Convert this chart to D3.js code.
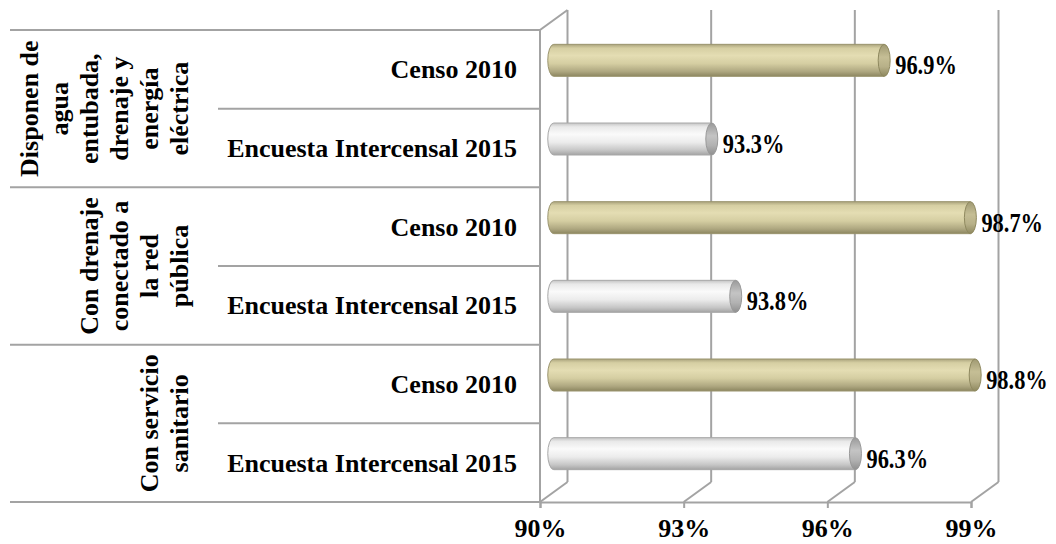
<!DOCTYPE html>
<html>
<head>
<meta charset="utf-8">
<script src="https://cdn.jsdelivr.net/npm/d3@7"></script>
<style>
  body { margin: 0; background: #fff; }
  svg text { font-family: "Liberation Serif", "Times New Roman", serif; font-weight: bold; fill: #000; }
</style>
</head>
<body>
<svg id="chart"></svg>
<script>
// data
const groupLines = [
  ["Disponen de", "agua", "entubada,", "drenaje y", "energía", "eléctrica"],
  ["Con drenaje", "conectado a", "la red", "pública"],
  ["Con servicio", "sanitario"]
];
const seriesNames = ["Censo 2010", "Encuesta Intercensal 2015"];
const censo2010 = [96.9, 98.7, 98.8];
const encuesta2015 = [93.3, 93.8, 96.3];
const tickValues = [90, 93, 96, 99];

const width = 1056, height = 544;
const depth = { dx: 27.5, dy: -20 };
const lineColor = "#a3a3a3";

const rows = [];
groupLines.forEach((g, i) => {
  rows.push({ group: i, series: 0, label: seriesNames[0], value: censo2010[i] });
  rows.push({ group: i, series: 1, label: seriesNames[1], value: encuesta2015[i] });
});

const svg = d3.select("#chart").attr("width", width).attr("height", height);

const x = d3.scaleLinear().domain([90, 99]).range([540, 971]);
const y = d3.scaleBand().domain(d3.range(rows.length)).range([30, 502]);
const yGroup = d3.scaleBand().domain(d3.range(groupLines.length)).range([30, 502]);

// gradients for cylinders
const defs = svg.append("defs");
const grads = [
  { id: "body0", stops: [[0, "#aba47d"], [0.12, "#d6cfa3"], [0.35, "#e4ddb3"], [0.6, "#d5cea2"], [0.85, "#aea780"], [1, "#8c8660"]] },
  { id: "body1", stops: [[0, "#c4c4c4"], [0.12, "#e9e9e9"], [0.35, "#fafafa"], [0.6, "#ececec"], [0.85, "#c6c6c6"], [1, "#a3a3a3"]] },
  { id: "cap0", stops: [[0, "#9f9972"], [0.4, "#c5be95"], [0.7, "#b7b088"], [1, "#8e885f"]] },
  { id: "cap1", stops: [[0, "#9a9a9a"], [0.4, "#c4c4c4"], [0.7, "#b2b2b2"], [1, "#8f8f8f"]] }
];
grads.forEach(g => {
  const lg = defs.append("linearGradient").attr("id", g.id)
    .attr("x1", 0).attr("y1", 0).attr("x2", 0).attr("y2", 1);
  g.stops.forEach(s => lg.append("stop").attr("offset", s[0]).attr("stop-color", s[1]));
});

// table lines on the left
const tableLeft = 10, subLeft = 218, wallX = x(90);
const grid = svg.append("g").attr("stroke", lineColor).attr("stroke-width", 2).attr("fill", "none");

grid.selectAll(".gline")
  .data(d3.range(groupLines.length + 1))
  .join("line")
  .attr("x1", tableLeft).attr("x2", wallX)
  .attr("y1", d => d < groupLines.length ? yGroup(d) : yGroup(d - 1) + yGroup.bandwidth())
  .attr("y2", d => d < groupLines.length ? yGroup(d) : yGroup(d - 1) + yGroup.bandwidth());

grid.selectAll(".sline")
  .data(groupLines.map((g, i) => i))
  .join("line")
  .attr("x1", subLeft).attr("x2", wallX)
  .attr("y1", d => y(d * 2 + 1)).attr("y2", d => y(d * 2 + 1));

// 3D frame: left wall, back gridlines, floor
const yTop = y.range()[0], yBottom = y.range()[1];
grid.append("path")
  .attr("d", `M${wallX},${yBottom}V${yTop}l${depth.dx},${depth.dy}`);

grid.selectAll(".back")
  .data(tickValues)
  .join("line")
  .attr("x1", d => x(d) + depth.dx).attr("x2", d => x(d) + depth.dx)
  .attr("y1", yTop + depth.dy).attr("y2", yBottom + depth.dy);

grid.selectAll(".floor")
  .data(tickValues)
  .join("line")
  .attr("x1", d => x(d)).attr("y1", yBottom)
  .attr("x2", d => x(d) + depth.dx).attr("y2", yBottom + depth.dy);

// bottom axis
const xAxis = d3.axisBottom(x).tickValues(tickValues).tickSize(6).tickPadding(7)
  .tickFormat(d => d + "%");
const axisG = svg.append("g").attr("transform", `translate(0,${yBottom})`).call(xAxis);
axisG.select(".domain").attr("stroke", lineColor).attr("stroke-width", 2);
axisG.selectAll(".tick line").attr("stroke", lineColor).attr("stroke-width", 2);
axisG.selectAll(".tick text").attr("font-size", 26).attr("dy", "0.86em")
  .style("font-family", '"Liberation Serif", serif').style("font-weight", "bold");

// cylinders
const ry = 16, rx = 6;
const barCenter = i => y(i) + y.bandwidth() / 2 + depth.dy / 2 + 1;
const bars = svg.append("g").selectAll("g").data(rows).join("g");

bars.append("path")
  .attr("fill", d => `url(#body${d.series})`)
  .attr("stroke", d => d.series === 0 ? "#9a946e" : "#a8a8a8")
  .attr("stroke-width", 1)
  .attr("d", (d, i) => {
    const x0 = x(90) + depth.dx / 2, x1 = x(d.value) + depth.dx / 2, c = barCenter(i);
    return `M${x1},${c - ry}H${x0}A${rx},${ry} 0 0 0 ${x0},${c + ry}H${x1}`;
  });

bars.append("ellipse")
  .attr("cx", d => x(d.value) + depth.dx / 2)
  .attr("cy", (d, i) => barCenter(i))
  .attr("rx", rx).attr("ry", ry)
  .attr("fill", d => `url(#cap${d.series})`)
  .attr("stroke", d => d.series === 0 ? "#8f895f" : "#999")
  .attr("stroke-width", 1);

// value labels
bars.append("text")
  .attr("font-size", 27)
  .attr("transform", (d, i) => `translate(${x(d.value) + depth.dx / 2 + rx + 5},${barCenter(i) + 14}) scale(0.83,1)`)
  .text(d => d.value.toFixed(1) + "%");

// row labels
svg.append("g").selectAll("text").data(rows).join("text")
  .attr("x", 517)
  .attr("y", (d, i) => y(i) + y.bandwidth() / 2 + 9)
  .attr("text-anchor", "end")
  .attr("font-size", 26)
  .text(d => d.label);

// rotated group labels
const lineStep = 30, lastBaseline = 188;
const glabels = svg.append("g").selectAll("text").data(groupLines).join("text")
  .attr("text-anchor", "middle")
  .attr("font-size", 26)
  .attr("transform", (d, i) => `translate(0,${yGroup(i) + yGroup.bandwidth() / 2}) rotate(-90)`);

glabels.selectAll("tspan").data(d => d.map((t, j) => ({ t, j, n: d.length }))).join("tspan")
  .attr("x", 0)
  .attr("y", d => lastBaseline - (d.n - 1 - d.j) * lineStep)
  .text(d => d.t);
</script>
</body>
</html>
